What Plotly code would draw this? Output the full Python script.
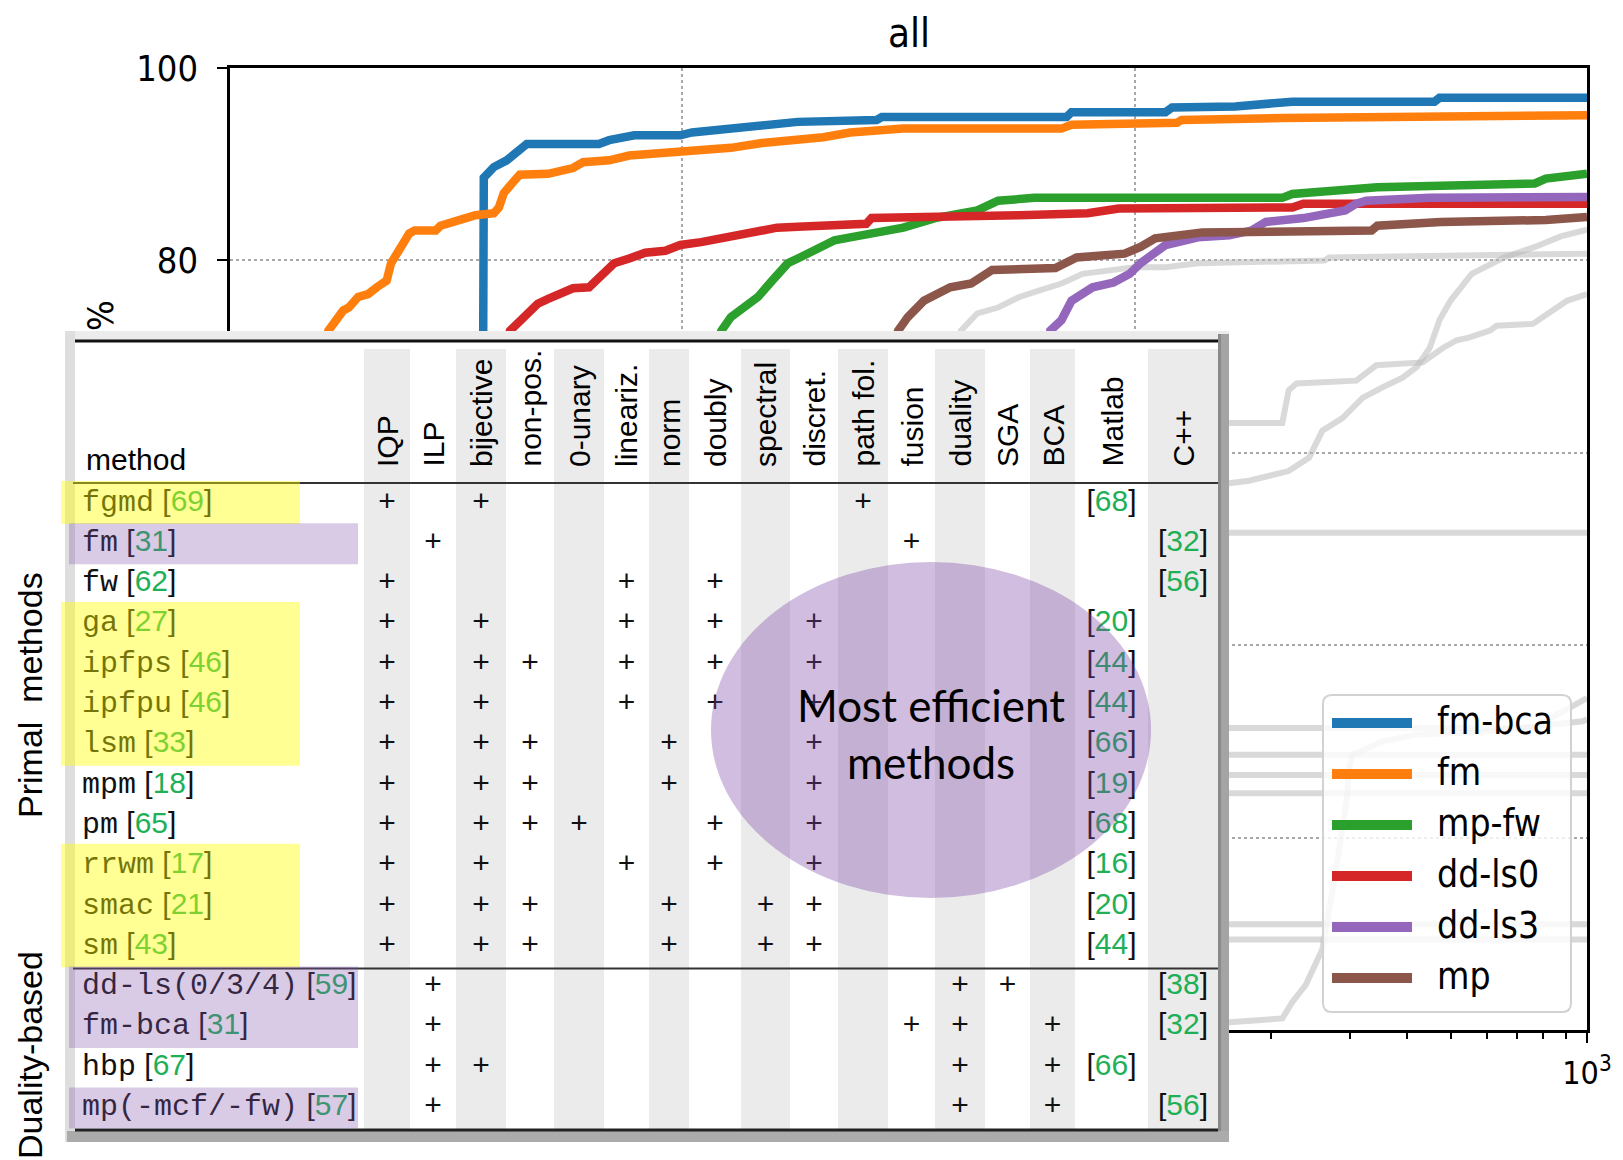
import plotly.graph_objects as go

# ======================= chart data: time [s] vs. % instances solved =======================
fm_bca_t = [3.50, 3.60, 3.64, 3.83, 4.09, 4.42, 4.53, 6.54, 6.89, 7.83, 9.9, 10.5, 12.8, 15.0, 18.0,
            26.9, 27.6, 70.7, 72.5, 117, 121, 167, 223, 460, 472, 1000]
fm_bca_p = [0, 30, 88.6, 89.7, 90.4, 91.8, 92.1, 92.1, 92.5, 93.0, 93.0, 93.3, 93.7, 94.2, 94.4,
            94.6, 94.9, 94.9, 95.4, 95.4, 95.9, 96.0, 96.5, 96.5, 96.9, 96.9]

fm_t = [1.0, 1.3, 1.5, 1.65, 1.78, 1.83, 1.92, 2.02, 2.11, 2.22, 2.27, 2.31, 2.43, 2.49, 2.56, 2.85,
        2.92, 3.07, 3.32, 3.49, 3.83, 3.93, 4.03, 4.20, 4.37, 5.05, 5.73, 6.03, 6.89, 7.63, 9.90, 12.8,
        15.0, 18.0, 20.5, 23.5, 30.8, 68.9, 72.5, 124, 127, 212, 362, 372, 1000]
fm_p = [35, 55, 66, 72.7, 74.8, 75.1, 76.2, 76.5, 77.2, 77.9, 79.7, 80.3, 81.8, 82.8, 83.1, 83.1,
        83.6, 84.0, 84.4, 84.7, 84.9, 85.5, 87.0, 88.0, 88.9, 89.0, 89.6, 90.2, 90.4, 90.9, 91.3, 91.7,
        92.2, 92.5, 92.8, 93.3, 93.7, 93.7, 94.1, 94.3, 94.6, 94.8, 94.9, 95.1, 95.1]

mp_fw_t = [5.0, 9.0, 12.2, 12.8, 13.9, 14.7, 15.8, 17.1, 18.0, 20.0, 21.7, 23.5, 26.9, 30.8, 36.2,
           40.3, 44.9, 49.9, 60.0, 212, 223, 344, 767, 811, 1000]
mp_fw_p = [20, 55, 72.7, 74.1, 75.5, 76.2, 77.9, 79.7, 80.2, 81.4, 82.1, 82.4, 82.9, 83.4, 84.4,
           84.9, 85.2, 86.2, 86.5, 86.5, 86.9, 87.6, 88.0, 88.5, 89.0]

dd_ls0_t = [3.0, 3.8, 4.16, 4.42, 4.79, 5.05, 5.31, 5.73, 6.22, 6.54, 7.07, 7.63, 8.28, 9.17, 9.90,
            11.0, 12.2, 13.6, 15.0, 16.2, 18.0, 25.5, 26.2, 52.6, 55.6, 78.7, 92.2, 223, 236, 1000]
dd_ls0_p = [40, 65, 72.7, 73.8, 75.5, 76.0, 76.5, 77.1, 77.2, 78.2, 79.7, 80.2, 80.8, 81.0, 81.6,
            81.9, 82.3, 82.6, 83.1, 83.4, 83.5, 83.8, 84.4, 84.5, 84.7, 84.9, 85.4, 85.5, 85.9, 85.9]

dd_ls3_t = [40, 58, 65.1, 68.9, 72.5, 80.7, 89.8, 97.5, 103, 111, 117, 138, 162, 181, 195, 236, 263,
            292, 309, 325, 449, 1000]
dd_ls3_p = [20, 55, 72.7, 73.8, 75.8, 77.2, 77.7, 78.6, 79.7, 80.7, 81.6, 82.4, 82.6, 83.1, 84.0,
            84.4, 84.7, 85.2, 85.9, 86.2, 86.5, 86.6]

mp_t = [15, 25, 30.0, 31.5, 34.2, 36.2, 39.1, 43.5, 47.2, 48.4, 66.8, 74.4, 95.0, 103, 111, 124, 141,
        334, 344, 475, 811, 1000]
mp_p = [30, 60, 72.7, 74.1, 75.8, 76.5, 77.2, 77.6, 78.6, 79.0, 79.2, 80.3, 80.7, 81.4, 82.3, 82.6,
        82.9, 83.1, 83.6, 84.0, 84.2, 84.5]

series_names = ["fm-bca", "fm", "mp-fw", "dd-ls0", "dd-ls3", "mp"]
series_colors = ["#1f77b4", "#ff7f0e", "#2ca02c", "#d62728", "#9467bd", "#8c564b"]

# other (grey) methods
gray_a_t = [20, 35, 41.3, 44.9, 49.9, 55.6, 61.9, 68.9, 76.7, 89.8, 100, 117, 138, 263, 269, 1000]
gray_a_p = [30, 60, 72.7, 74.5, 75.1, 76.2, 76.9, 77.6, 78.6, 79.0, 79.3, 79.3, 79.7, 80.0, 80.3, 80.7]
gray_b_t = [100, 160, 179, 219, 243, 260, 288, 319, 353, 391, 420, 449, 472, 499, 556, 655, 767, 875, 1000]
gray_b_p = [30, 56.8, 57.1, 58.1, 59.5, 62.3, 63.6, 65.7, 66.8, 67.8, 68.9, 70.9, 73.8, 75.8, 78.6,
            80.3, 81.4, 82.5, 83.2]
gray_c_t = [100, 160, 212, 219, 228, 309, 342, 433, 480, 515, 550, 610, 631, 759, 903, 1000]
gray_c_p = [40, 63.1, 63.1, 66.5, 67.2, 67.5, 69.1, 69.4, 70.9, 71.7, 72.0, 72.7, 73.2, 73.4, 75.8, 76.5]
gray_d_t = [30, 60, 1000]
gray_d_p = [20, 51.7, 51.7]
gray_e_t = [30, 50, 760, 1000]
gray_e_p = [10, 31.4, 31.4, 34.5]
gray_f_t = [30, 50, 1000]
gray_f_p = [10, 28.6, 28.6]
gray_g_t = [30, 50, 1000]
gray_g_p = [10, 26.5, 26.5]
gray_h_t = [30, 50, 1000]
gray_h_p = [10, 24.6, 24.6]
gray_i_t = [30, 50, 1000]
gray_i_p = [3, 11.0, 11.0]
gray_j_t = [30, 50, 1000]
gray_j_p = [3, 9.4, 9.4]
gray_k_t = [100, 162, 212, 223, 239, 252, 260, 279, 294, 298, 303, 353, 420, 588, 980, 1000]
gray_k_p = [0.5, 0.8, 1.2, 2.9, 4.7, 7.1, 8.4, 16.8, 23.8, 27.2, 28.6, 30.0, 30.7, 31.0, 32.1, 32.3]

x_tick_vals = [1, 10, 100, 1000]
x_tick_text = ["10<sup>0</sup>", "10<sup>1</sup>", "10<sup>2</sup>", "10<sup>3</sup>"]
x_minor_vals = [2, 3, 4, 5, 6, 7, 8, 9, 20, 30, 40, 50, 60, 70, 80, 90,
                200, 300, 400, 500, 600, 700, 800, 900]
y_tick_vals = [0, 20, 40, 60, 80, 100]
y_tick_text = ["0", "20", "40", "60", "80", "100"]

# ======================= table data =======================
methods = ["fgmd", "fm", "fw", "ga", "ipfps", "ipfpu", "lsm", "mpm", "pm", "rrwm", "smac", "sm",
           "dd-ls(0/3/4)", "fm-bca", "hbp", "mp(-mcf/-fw)"]
method_refs = [69, 31, 62, 27, 46, 46, 33, 18, 65, 17, 21, 43, 59, 31, 67, 57]
feature_cols = ["IQP", "ILP", "bijective", "non-pos.", "0-unary", "lineariz.", "norm", "doubly",
                "spectral", "discret.", "path fol.", "fusion", "duality", "SGA", "BCA"]
impl_cols = ["Matlab", "C++"]
method_features = [
    ["IQP", "bijective", "path fol."],
    ["ILP", "fusion"],
    ["IQP", "lineariz.", "doubly"],
    ["IQP", "bijective", "lineariz.", "doubly", "discret."],
    ["IQP", "bijective", "non-pos.", "lineariz.", "doubly", "discret."],
    ["IQP", "bijective", "lineariz.", "doubly", "discret."],
    ["IQP", "bijective", "non-pos.", "norm", "discret."],
    ["IQP", "bijective", "non-pos.", "norm", "discret."],
    ["IQP", "bijective", "non-pos.", "0-unary", "doubly", "discret."],
    ["IQP", "bijective", "lineariz.", "doubly", "discret."],
    ["IQP", "bijective", "non-pos.", "norm", "spectral", "discret."],
    ["IQP", "bijective", "non-pos.", "norm", "spectral", "discret."],
    ["ILP", "duality", "SGA"],
    ["ILP", "fusion", "duality", "BCA"],
    ["ILP", "bijective", "duality", "BCA"],
    ["ILP", "duality", "BCA"],
]
impl_lang = ["Matlab", "C++", "C++", "Matlab", "Matlab", "Matlab", "Matlab", "Matlab", "Matlab",
             "Matlab", "Matlab", "Matlab", "C++", "C++", "Matlab", "C++"]
impl_ref = [68, 32, 56, 20, 44, 44, 66, 19, 68, 16, 20, 44, 38, 32, 66, 56]
group_names = ["Primal\u00a0 methods", "Duality-based"]
n_primal = 12
yellow_rows = [(0, 0), (3, 6), (9, 11)]
purple_rows = [(1, 1), (12, 13), (15, 15)]
callout_text = "Most efficient<br>methods"

# ======================= layout geometry (screen pixels) =======================
W, H = 1623, 1160          # window
OFF = 8                    # page body margin
FW, FH = W - OFF, H - OFF  # figure size
PL, PR, PT, PB = 230, 1587, 68, 1030
TBL = (65, 331, 1229, 1142)
INNER = (75, 340, 1218, 1131)
COL_X0 = 364
COL_W = [46, 46, 50, 48, 50, 45, 40, 52, 49, 48, 50, 47, 50, 45, 45, 73, 70]
ROW_Y0, ROW_H = 503, 40.3
HEAD_RULE_Y, HEAD_BASE_Y, BAND_TOP = 483, 469, 349
LABEL_X = 82
GROUP_X, GROUP_Y = 30, [695, 1055]
YELLOW_X, PURPLE_X = (61, 300), (69, 358)
ELLIPSE = (711, 562, 1151, 898)
LEG = (1323, 695, 1571, 1012)
LEG_Y0, LEG_DY = 723, 51

GREEN = "#1fb057"
CHART_FONT = "DejaVu Sans Condensed, DejaVu Sans"
TBL_FONT = "Liberation Sans, Arial"

col_edges = [COL_X0]
for w in COL_W:
    col_edges.append(col_edges[-1] + w)
col_centers = [(col_edges[i] + col_edges[i + 1]) / 2 for i in range(len(COL_W))]
all_cols = feature_cols + impl_cols
row_centers = [ROW_Y0 + ROW_H * i for i in range(len(methods))]

fig = go.Figure()

# ---- grey curves ----
grays = [(gray_a_t, gray_a_p), (gray_b_t, gray_b_p), (gray_c_t, gray_c_p), (gray_d_t, gray_d_p),
         (gray_e_t, gray_e_p), (gray_f_t, gray_f_p), (gray_g_t, gray_g_p), (gray_h_t, gray_h_p),
         (gray_i_t, gray_i_p), (gray_j_t, gray_j_p), (gray_k_t, gray_k_p)]
for t, p in grays:
    fig.add_trace(go.Scatter(x=t, y=p, mode="lines", showlegend=False, hoverinfo="skip",
                             line=dict(color="rgba(185,185,185,0.55)", width=6),
                             xaxis="x", yaxis="y"))

series_data = [(fm_bca_t, fm_bca_p), (fm_t, fm_p), (mp_fw_t, mp_fw_p), (dd_ls0_t, dd_ls0_p),
               (dd_ls3_t, dd_ls3_p), (mp_t, mp_p)]
for name, (t, p), c in zip(series_names, series_data, series_colors):
    fig.add_trace(go.Scatter(x=t, y=p, mode="lines", name=name, showlegend=False,
                             line=dict(color=c, width=8.5), xaxis="x", yaxis="y"))

# ---- table text (drawn on pixel subplot x2/y2, above the table background) ----
plus_x, plus_y = [], []
for i, feats in enumerate(method_features):
    for f in feats:
        plus_x.append(col_centers[all_cols.index(f)])
        plus_y.append(row_centers[i])
fig.add_trace(go.Scatter(x=plus_x, y=plus_y, mode="text", text=["+"] * len(plus_x),
                         textposition="middle center", showlegend=False, hoverinfo="skip",
                         textfont=dict(family=TBL_FONT, size=30, color="#111111"),
                         xaxis="x2", yaxis="y2"))

label_text = [f'<span style="font-family:Liberation Mono">{m}</span> [<span style="color:{GREEN}">{r}</span>]'
              for m, r in zip(methods, method_refs)]
fig.add_trace(go.Scatter(x=[LABEL_X] * len(methods), y=row_centers, mode="text", text=label_text,
                         textposition="middle right", showlegend=False, hoverinfo="skip",
                         textfont=dict(family=TBL_FONT, size=30, color="#111111"),
                         xaxis="x2", yaxis="y2"))

impl_x = [col_centers[all_cols.index(l)] for l in impl_lang]
impl_text = [f'[<span style="color:{GREEN}">{r}</span>]' for r in impl_ref]
fig.add_trace(go.Scatter(x=impl_x, y=row_centers, mode="text", text=impl_text,
                         textposition="middle center", showlegend=False, hoverinfo="skip",
                         textfont=dict(family=TBL_FONT, size=30, color="#111111"),
                         xaxis="x2", yaxis="y2"))

# ---- shapes ----
shapes = []
def rect(x0, y0, x1, y1, fill, layer="below"):
    shapes.append(dict(type="rect", xref="x2", yref="y2", x0=x0, y0=y0, x1=x1, y1=y1,
                       fillcolor=fill, layer=layer, line=dict(width=0)))

def hline(x0, x1, y, w, c, layer="below"):
    shapes.append(dict(type="line", xref="x2", yref="y2", x0=x0, x1=x1, y0=y, y1=y,
                       layer=layer, line=dict(width=w, color=c)))

tl, tt, tr, tb = TBL
il, it, ir, ib = INNER
rect(tl, tt, tr, tb, "#b0b0b0")
rect(tl, tt, tr, it, "#ececec")
rect(tl, tt, il, tb, "#dedede")
rect(ir, tt + 3, tr, tb, "#a4a4a4")
rect(ir, tt + 3, ir + 3, tb, "#8a8a8a")
rect(tl + 2, ib, tr, tb, "#ababab")
rect(il, it, ir, ib, "white")
for i in range(0, len(COL_W), 2):
    rect(col_edges[i], BAND_TOP, col_edges[i + 1], ib, "#ebebeb")
hline(il, ir, it + 1, 3, "#111111")
hline(il - 2, ir, HEAD_RULE_Y, 2, "#333333")
hline(il - 2, ir, ROW_Y0 + ROW_H * (n_primal - 0.5) + 2, 2, "#333333")
hline(il, ir, ib - 1, 3, "#222222")

# highlights (over the text)
for a, b in yellow_rows:
    rect(YELLOW_X[0], row_centers[a] - 22, YELLOW_X[1], row_centers[b] + 21,
         "rgba(255,255,0,0.42)", layer="above")
for a, b in purple_rows:
    rect(PURPLE_X[0], row_centers[a] - 20, PURPLE_X[1], row_centers[b] + 21,
         "rgba(131,88,173,0.31)", layer="above")

# callout ellipse
shapes.append(dict(type="circle", xref="x2", yref="y2", x0=ELLIPSE[0], y0=ELLIPSE[1],
                   x1=ELLIPSE[2], y1=ELLIPSE[3], fillcolor="rgba(124,66,166,0.35)",
                   line=dict(width=0), layer="above"))

# legend box
lx0, ly0, lx1, ly1 = LEG
r = 9
path = (f"M {lx0 + r},{ly0} L {lx1 - r},{ly0} Q {lx1},{ly0} {lx1},{ly0 + r} L {lx1},{ly1 - r} "
        f"Q {lx1},{ly1} {lx1 - r},{ly1} L {lx0 + r},{ly1} Q {lx0},{ly1} {lx0},{ly1 - r} "
        f"L {lx0},{ly0 + r} Q {lx0},{ly0} {lx0 + r},{ly0} Z")
shapes.append(dict(type="path", xref="x2", yref="y2", path=path, layer="above",
                   fillcolor="rgba(255,255,255,0.8)", line=dict(width=2, color="#d2d2d2")))
for i, c in enumerate(series_colors):
    y = LEG_Y0 + LEG_DY * i
    shapes.append(dict(type="line", xref="x2", yref="y2", x0=lx0 + 9, x1=lx0 + 89, y0=y, y1=y,
                       layer="above", line=dict(width=10, color=c)))

# ---- annotations ----
ann = []
for i, name in enumerate(series_names):
    ann.append(dict(text=name, x=lx0 + 112, y=LEG_Y0 + LEG_DY * i - 2, xref="x2", yref="y2",
                    xanchor="left", yanchor="middle", showarrow=False,
                    font=dict(family=CHART_FONT, size=37, color="black")))
for c, name in zip(col_centers, all_cols):
    ann.append(dict(text=name, x=c, y=HEAD_BASE_Y, xref="x2", yref="y2", textangle=-90,
                    xanchor="center", yanchor="bottom", showarrow=False,
                    font=dict(family=TBL_FONT, size=30, color="black")))
ann.append(dict(text="method", x=84, y=HEAD_BASE_Y + 9, xref="x2", yref="y2", xanchor="left",
                yanchor="bottom", showarrow=False, font=dict(family=TBL_FONT, size=30, color="black")))
for gname, gy in zip(group_names, GROUP_Y):
    ann.append(dict(text=gname, x=GROUP_X, y=gy, xref="x2", yref="y2", textangle=-90,
                    xanchor="center", yanchor="middle", showarrow=False,
                    font=dict(family=TBL_FONT, size=34, color="black")))
ann.append(dict(text=callout_text, x=(ELLIPSE[0] + ELLIPSE[2]) / 2, y=733, xref="x2", yref="y2",
                xanchor="center", yanchor="middle", showarrow=False,
                font=dict(family="Lato, Open Sans", size=44, color="black")))
ann.append(dict(text="%", x=100, y=316, xref="x2", yref="y2", textangle=-90, xanchor="center",
                yanchor="middle", showarrow=False, font=dict(family=CHART_FONT, size=36, color="black")))

axis_common = dict(showline=True, mirror=True, linecolor="black", linewidth=2.5, ticks="outside",
                   ticklen=10, tickwidth=2, tickcolor="black", showgrid=True, gridcolor="#a8a8a8",
                   griddash="dot", gridwidth=2, zeroline=False, automargin=False)

fig.update_layout(
    width=FW, height=FH, margin=dict(l=0, r=0, t=0, b=0),
    paper_bgcolor="white", plot_bgcolor="rgba(0,0,0,0)", showlegend=False,
    title=dict(text="all", x=(909 - OFF) / FW, xanchor="center", y=1 - (33 - OFF) / FH,
               yanchor="middle", font=dict(family=CHART_FONT, size=40, color="black")),
    xaxis=dict(type="log", range=[0, 3], domain=[(PL - OFF) / FW, (PR - OFF) / FW], anchor="y",
               tickvals=x_tick_vals, ticktext=x_tick_text,
               tickfont=dict(family=CHART_FONT, size=32, color="black"), ticklabelstandoff=3,
               minor=dict(tickvals=x_minor_vals, ticks="outside", ticklen=6, tickwidth=1.5,
                          tickcolor="black", showgrid=False),
               **axis_common),
    yaxis=dict(range=[0, 100], domain=[(H - PB) / FH, (H - PT) / FH], anchor="x",
               tickvals=y_tick_vals, ticktext=y_tick_text, ticklabelstandoff=12,
               tickfont=dict(family=CHART_FONT, size=36, color="black"), **axis_common),
    xaxis2=dict(domain=[0, 1], range=[OFF, W], anchor="y2", visible=False, fixedrange=True),
    yaxis2=dict(domain=[0, 1], range=[H, OFF], anchor="x2", visible=False, fixedrange=True),
    shapes=shapes, annotations=ann,
)

fig.write_html("out.html")
